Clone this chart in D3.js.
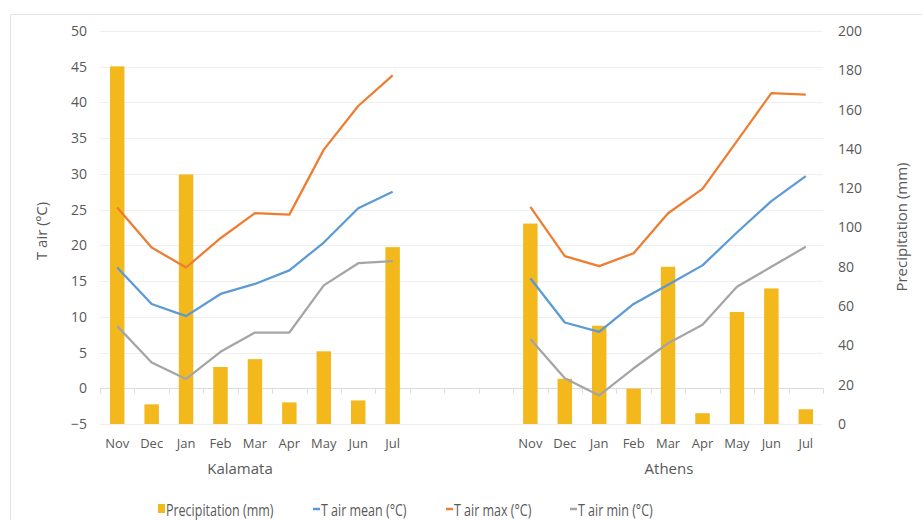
<!DOCTYPE html>
<html>
<head>
<meta charset="utf-8">
<script src="https://cdn.jsdelivr.net/npm/d3@7"></script>
<style>
  html, body { margin: 0; padding: 0; background: #fff; }
  svg { display: block; }
  text { font-family: "Open Sans", "Noto Sans", sans-serif; fill: #595959; }
</style>
</head>
<body>
<svg id="chart" width="922" height="520"></svg>
<script>
// Months shown for each station (Nov through Jul)
const months = ["Nov", "Dec", "Jan", "Feb", "Mar", "Apr", "May", "Jun", "Jul"];
const stations = ["Kalamata", "Athens"];
const gapSlots = 3; // empty category slots between the two stations

// Monthly precipitation (mm)
const kalamataPrecip = [182, 10, 127, 29, 33, 11, 37, 12, 90];
const athensPrecip   = [102, 23, 50, 18, 80, 5.5, 57, 69, 7.5];

// Monthly air temperature (°C)
const kalamataTmean = [16.9, 11.8, 10.1, 13.2, 14.6, 16.5, 20.4, 25.2, 27.5];
const kalamataTmax  = [25.3, 19.7, 16.9, 21.0, 24.5, 24.3, 33.4, 39.5, 43.8];
const kalamataTmin  = [8.7, 3.6, 1.3, 5.1, 7.8, 7.8, 14.4, 17.5, 17.8];
const athensTmean   = [15.4, 9.2, 7.9, 11.8, 14.5, 17.2, 21.8, 26.2, 29.7];
const athensTmax    = [25.4, 18.5, 17.1, 18.9, 24.5, 27.9, 34.6, 41.3, 41.1];
const athensTmin    = [6.9, 1.4, -1.0, 2.8, 6.3, 8.9, 14.2, 17.0, 19.8];

// Axis ticks
const tempTicks = [-5, 0, 5, 10, 15, 20, 25, 30, 35, 40, 45, 50];
const precipTicks = [0, 20, 40, 60, 80, 100, 120, 140, 160, 180, 200];

// Series styling
const colors = { precip: "#F2B81C", mean: "#5B9BD5", max: "#ED7D31", min: "#A5A5A5" };
const legendItems = [
  { key: "precip", label: "Precipitation (mm)", type: "rect" },
  { key: "mean",   label: "T air mean (°C)",   type: "line" },
  { key: "max",    label: "T air max (°C)",    type: "line" },
  { key: "min",    label: "T air min (°C)",    type: "line" }
];

// Build one record per station-month, with slot keys for the category band
const stationData = [
  { name: stations[0], precip: kalamataPrecip, mean: kalamataTmean, max: kalamataTmax, min: kalamataTmin },
  { name: stations[1], precip: athensPrecip,   mean: athensTmean,   max: athensTmax,   min: athensTmin }
];
const slots = [];
stationData.forEach((s, si) => {
  months.forEach(m => slots.push(s.name + "-" + m));
  if (si === 0) for (let g = 0; g < gapSlots; g++) slots.push("gap-" + g);
});
const rows = [];
stationData.forEach(s => months.forEach((m, i) => rows.push({
  station: s.name, month: m, slot: s.name + "-" + m,
  precip: s.precip[i], mean: s.mean[i], max: s.max[i], min: s.min[i]
})));

const svg = d3.select("#chart");
const plot = { left: 100, right: 823, top: 31, bottom: 424 };

const x = d3.scaleBand().domain(slots).range([plot.left, plot.right]).padding(0);
const yT = d3.scaleLinear().domain([-5, 50]).range([plot.bottom, plot.top]);
const yP = d3.scaleLinear().domain([0, 200]).range([plot.bottom, plot.top]);

// Chart area frame
svg.append("rect")
  .attr("x", 10.5).attr("y", 14.5).attr("width", 960).attr("height", 560)
  .attr("fill", "none").attr("stroke", "#e3e3e3").attr("stroke-width", 1);

// Horizontal gridlines at the temperature ticks
svg.append("g").selectAll("line").data(tempTicks).join("line")
  .attr("x1", plot.left).attr("x2", plot.right)
  .attr("y1", d => Math.round(yT(d)) + 0.5).attr("y2", d => Math.round(yT(d)) + 0.5)
  .attr("stroke", "#efefef").attr("stroke-width", 1);

// Category axis drawn at T = 0 with tick marks on slot boundaries
const zeroY = Math.round(yT(0)) + 0.5;
const axisG = svg.append("g");
axisG.append("line")
  .attr("x1", plot.left).attr("x2", plot.right)
  .attr("y1", zeroY).attr("y2", zeroY)
  .attr("stroke", "#dcdcdc");
const boundaries = slots.map(s => x(s)).concat([plot.right]);
axisG.selectAll("line.tick").data(boundaries).join("line")
  .attr("class", "tick")
  .attr("x1", d => Math.round(d) + 0.5).attr("x2", d => Math.round(d) + 0.5)
  .attr("y1", zeroY).attr("y2", zeroY + 5)
  .attr("stroke", "#dcdcdc");

// Left temperature axis
const leftAxis = d3.axisLeft(yT).tickValues(tempTicks).tickSize(0).tickPadding(0)
  .tickFormat(d => d < 0 ? "\u2212" + Math.abs(d) : d);
const gl = svg.append("g").attr("transform", `translate(${plot.left - 13},0)`).call(leftAxis);
gl.select(".domain").remove();
gl.selectAll("text").attr("font-size", 14).attr("fill", "#595959")
  .style("font-family", '"Open Sans", sans-serif');

// Right precipitation axis
const rightAxis = d3.axisRight(yP).tickValues(precipTicks).tickSize(0).tickPadding(0);
const gr = svg.append("g").attr("transform", `translate(${plot.right + 15},0)`).call(rightAxis);
gr.select(".domain").remove();
gr.selectAll("text").attr("font-size", 14).attr("fill", "#595959")
  .style("font-family", '"Open Sans", sans-serif');

// Precipitation bars
const barW = x.bandwidth() * 0.42;
svg.append("g").selectAll("rect").data(rows).join("rect")
  .attr("x", d => x(d.slot) + (x.bandwidth() - barW) / 2)
  .attr("width", barW)
  .attr("y", d => yP(d.precip))
  .attr("height", d => yP(0) - yP(d.precip))
  .attr("fill", colors.precip);

// Temperature lines, one path per station and series
const line = key => d3.line()
  .x(d => x(d.slot) + x.bandwidth() / 2)
  .y(d => yT(d[key]));
["min", "mean", "max"].forEach(key => {
  stations.forEach(st => {
    svg.append("path")
      .datum(rows.filter(r => r.station === st))
      .attr("d", line(key))
      .attr("fill", "none")
      .attr("stroke", colors[key])
      .attr("stroke-width", 2.25)
      .attr("stroke-linejoin", "round");
  });
});

// Month labels
svg.append("g").selectAll("text").data(rows).join("text")
  .attr("x", d => x(d.slot) + x.bandwidth() / 2)
  .attr("y", 448)
  .attr("text-anchor", "middle")
  .attr("font-size", 13)
  .text(d => d.month);

// Station labels under each group
const groupLabelX = { Kalamata: 240, Athens: 669 };
svg.append("g").selectAll("text").data(stations).join("text")
  .attr("x", d => groupLabelX[d])
  .attr("y", 474)
  .attr("text-anchor", "middle")
  .attr("font-size", 15)
  .text(d => d);

// Axis titles
svg.append("text")
  .attr("transform", "translate(47,231) rotate(-90)")
  .attr("text-anchor", "middle").attr("font-size", 15)
  .text("T air (ºC)");
svg.append("text")
  .attr("transform", "translate(907,227) rotate(-90)")
  .attr("text-anchor", "middle").attr("font-size", 15)
  .text("Precipitation (mm)");

// Legend (labels set in a narrowed face)
const legendX = [158, 313, 446, 570];
const lg = svg.append("g");
legendItems.forEach((it, i) => {
  const g = lg.append("g").attr("transform", `translate(${legendX[i]},509)`);
  if (it.type === "rect") {
    g.append("rect").attr("x", 0).attr("y", -5).attr("width", 7).attr("height", 9).attr("fill", colors[it.key]);
  } else {
    g.append("line").attr("x1", 0).attr("x2", 7).attr("y1", 0).attr("y2", 0)
      .attr("stroke", colors[it.key]).attr("stroke-width", 2.5);
  }
  g.append("text")
    .attr("transform", "translate(8,6.5) scale(0.735,1)")
    .attr("font-size", 17)
    .attr("fill", "#505050")
    .text(it.label);
});
</script>
</body>
</html>
